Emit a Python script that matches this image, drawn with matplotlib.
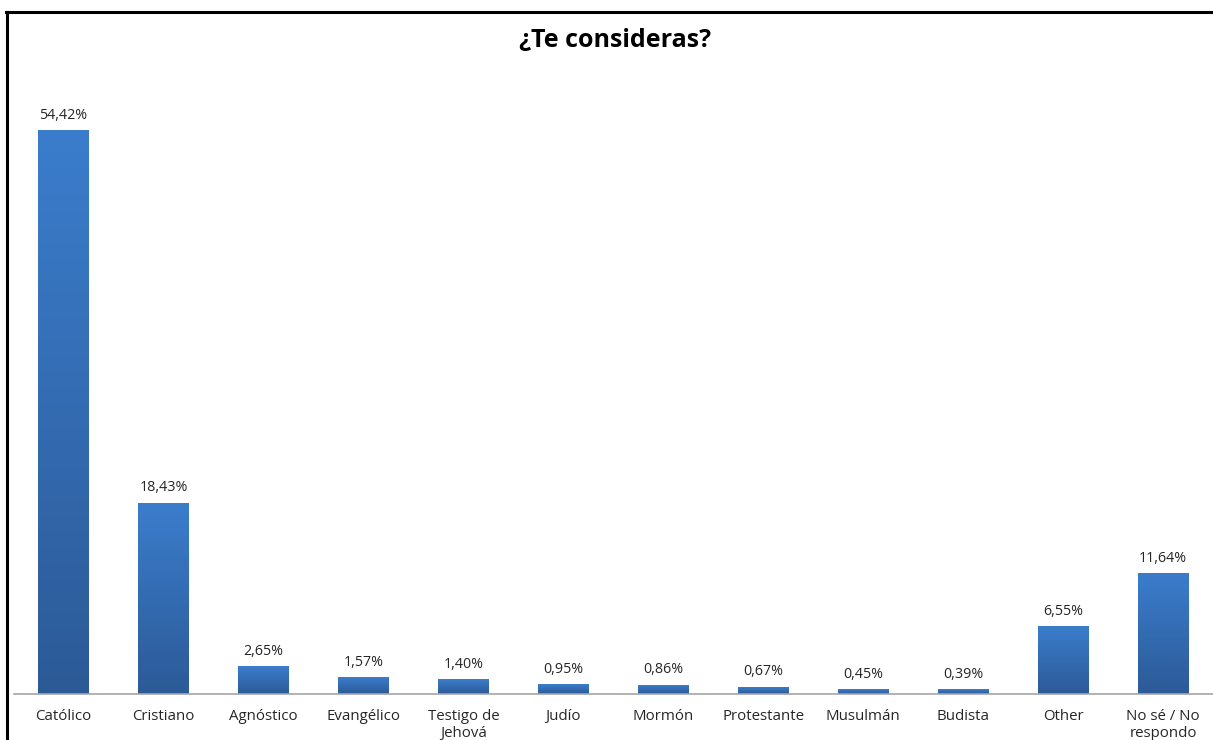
import matplotlib
matplotlib.use("Agg")
import matplotlib.pyplot as plt
import numpy as np
from matplotlib.lines import Line2D
from matplotlib.colors import LinearSegmentedColormap

categories = ["Católico", "Cristiano", "Agnóstico", "Evangélico", "Testigo de\nJehová",
              "Judío", "Mormón", "Protestante", "Musulmán", "Budista", "Other",
              "No sé / No\nrespondo"]
values = [54.42, 18.43, 2.65, 1.57, 1.40, 0.95, 0.86, 0.67, 0.45, 0.39, 6.55, 11.64]
labels = ["54,42%", "18,43%", "2,65%", "1,57%", "1,40%", "0,95%", "0,86%", "0,67%",
          "0,45%", "0,39%", "6,55%", "11,64%"]

plt.rcParams['font.family'] = ['Open Sans', 'DejaVu Sans']

W, H = 1213, 740
fig = plt.figure(figsize=(W / 100, H / 100), dpi=100)
fig.patch.set_facecolor('white')

px_per_unit = 10.36
ymax = 60
ax_left = 13.5 / W
ax_bottom = 46 / H
ax_h = ymax * px_per_unit / H
ax = fig.add_axes([ax_left, ax_bottom, 1 - ax_left, ax_h])

x = np.arange(len(categories))
width = 0.51

cmap = LinearSegmentedColormap.from_list("g", ["#2c5a97", "#3b7dcc"])
grad = np.linspace(0, 1, 256).reshape(-1, 1)
bars = ax.bar(x, values, width=width, color='none', edgecolor='none')
for b in bars:
    x0 = b.get_x()
    h = b.get_height()
    ax.imshow(grad, extent=[x0, x0 + width, 0, h], origin='lower', cmap=cmap,
              aspect='auto', zorder=2, interpolation='bilinear')
ax.set_xlim(-0.5, len(categories) - 0.5)
ax.set_ylim(0, ymax)

for xi, v, lab in zip(x, values, labels):
    ax.annotate(lab, (xi, v), xytext=(0, 5.5), textcoords='offset points',
                ha='center', va='bottom', fontsize=10.3, color='#262626')

for s in ['top', 'right', 'left']:
    ax.spines[s].set_visible(False)
ax.spines['bottom'].set_color('#a6a6a6')
ax.spines['bottom'].set_linewidth(1.2)
ax.set_yticks([])
ax.set_xticks(x)
ax.set_xticklabels(categories, fontsize=10.8, color='#262626', linespacing=1.25)
ax.tick_params(axis='x', length=0, pad=10.5)
ax.patch.set_alpha(0)

fig.text(615 / W, 1 - 40 / H, "¿Te consideras?", ha='center', va='center',
         fontsize=18, fontweight='bold', color='black')

# frame lines (left and top)
fig.add_artist(Line2D([7 / W, 7 / W], [0, 1 - 12 / H], color='black', lw=2.2,
                      transform=fig.transFigure))
fig.add_artist(Line2D([6 / W, 1], [1 - 12 / H, 1 - 12 / H], color='black', lw=2.2,
                      transform=fig.transFigure))

fig.savefig("out.png", dpi=100, facecolor='white')
